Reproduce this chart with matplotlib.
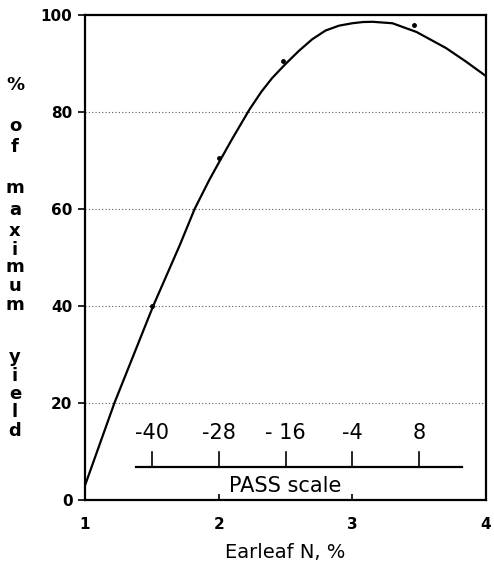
#!/usr/bin/env python3
import numpy as np
import matplotlib
matplotlib.use('Agg')
import matplotlib.pyplot as plt

plt.rcParams['font.family'] = ['DejaVu Sans']

# fitted response curve
curve_n = [1.0, 1.22, 1.51, 1.71, 1.82, 1.93, 2.0, 2.1, 2.23, 2.32, 2.4, 2.5, 2.6,
           2.7, 2.8, 2.9, 3.0, 3.08, 3.15, 3.3, 3.48, 3.7, 3.85, 4.0]
curve_yield = [3, 20, 40, 52.6, 60, 66, 69.5, 74.4, 80.5, 84.2, 87, 89.9, 92.6,
               95.0, 96.8, 97.8, 98.3, 98.55, 98.6, 98.3, 96.5, 93.2, 90.4, 87.4]

# observed points
obs_n = [1.5, 2.0, 2.48, 3.46]
obs_yield = [40, 70.5, 90.5, 98]

# PASS scale
pass_n = [1.5, 2.0, 2.5, 3.0, 3.5]
pass_labels = ['-40', '-28', '- 16', '-4', '8']

x_ticks = [1, 2, 3, 4]
y_ticks = [0, 20, 40, 60, 80, 100]
grid_y = [20, 40, 60, 80]


def main():
    fig = plt.figure(figsize=(4.94, 5.69), dpi=100)
    ax = fig.add_axes([85 / 494, 69 / 569, 401 / 494, 485 / 569])

    for g in grid_y:
        ax.axhline(g, color='0.35', lw=0.8, linestyle=(0, (1, 2)), zorder=1)

    ax.plot(curve_n, curve_yield, color='black', lw=1.6, zorder=3)
    ax.plot(obs_n, obs_yield, 'o', color='black', ms=2.5, zorder=3)

    # PASS scale inset axis
    ax.plot([1.38, 3.82], [6.8, 6.8], color='black', lw=1.6)
    for xv, lab in zip(pass_n, pass_labels):
        ax.plot([xv, xv], [6.8, 9.8], color='black', lw=1.2)
        ax.text(xv, 13.8, lab, ha='center', va='center', fontsize=15)
    ax.text(2.5, 2.8, 'PASS scale', ha='center', va='center', fontsize=15)

    ax.set_xlim(1, 4)
    ax.set_ylim(0, 100)
    ax.set_xticks(x_ticks)
    ax.set_yticks(y_ticks)
    ax.tick_params(axis='x', direction='in', length=4, width=1.2, pad=12,
                   labelsize=11)
    ax.tick_params(axis='y', direction='out', length=5, width=1.2, pad=4,
                   labelsize=11)
    for lab in ax.get_xticklabels() + ax.get_yticklabels():
        lab.set_fontweight('bold')
    for sp in ax.spines.values():
        sp.set_linewidth(1.6)

    ax.set_xlabel('Earleaf N, %', fontsize=14, labelpad=8)

    # stacked y label
    chars = ['%', 'o', 'f', 'm', 'a', 'x', 'i', 'm', 'u', 'm', 'y', 'i', 'e', 'l', 'd']
    ypix = [85, 126, 147, 188, 210, 231, 250, 267, 286, 305, 357, 376, 394, 412, 431]
    for c, yp in zip(chars, ypix):
        fig.text(15 / 494, 1 - yp / 569, c, ha='center', va='center',
                 fontsize=13, fontweight='bold')

    plt.savefig('out.png', dpi=100)


if __name__ == "__main__":
    main()
